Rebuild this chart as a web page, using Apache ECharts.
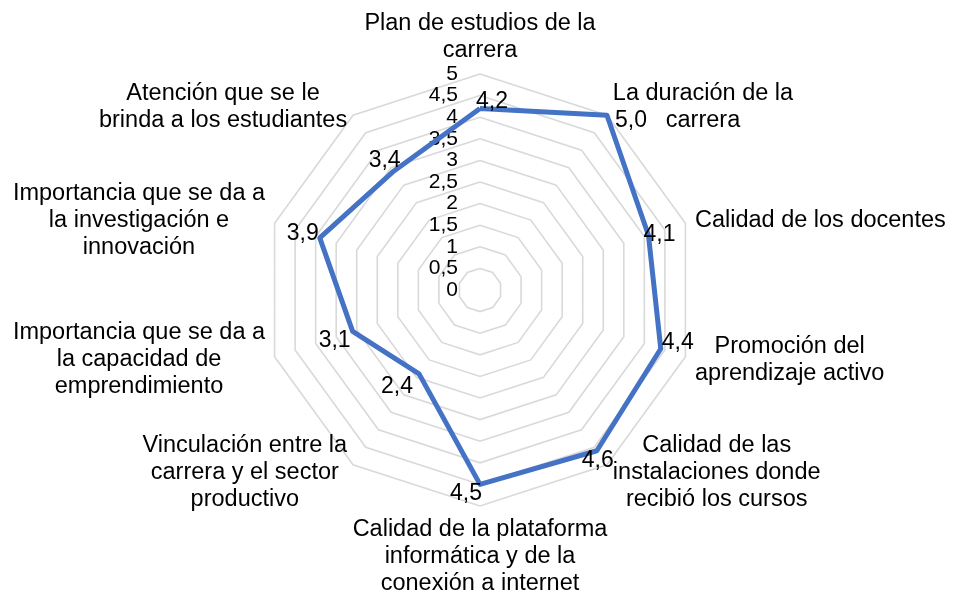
<!DOCTYPE html>
<html><head><meta charset="utf-8">
<script src="https://cdn.jsdelivr.net/npm/echarts@6/dist/echarts.min.js"></script>
<style>html,body{margin:0;padding:0;background:#fff}#c{width:953px;height:593px}</style>
</head><body><div id="c"></div>
<script>
// Categories listed clockwise starting at the top axis
const categories = [
  'Plan de estudios de la\ncarrera',
  'La duración de la\ncarrera',
  'Calidad de los docentes',
  'Promoción del\naprendizaje activo',
  'Calidad de las\ninstalaciones donde\nrecibió los cursos',
  'Calidad de la plataforma\ninformática y de la\nconexión a internet',
  'Vinculación entre la\ncarrera y el sector\nproductivo',
  'Importancia que se da a\nla capacidad de\nemprendimiento',
  'Importancia que se da a\nla investigación e\ninnovación',
  'Atención que se le\nbrinda a los estudiantes'
];
const values = [4.2, 5.0, 4.1, 4.4, 4.6, 4.5, 2.4, 3.1, 3.9, 3.4];
const axisMin = 0;
const axisMax = 5;
const axisSplits = 10;

// label offsets (dx, dy) in px for each category, clockwise order (style only)
const labelOffsets = [[12,-7],[24,5],[11,-1],[17,-6],[1,10],[-14,9],[-22,13],[-18,9],[-17,-4],[-9,-11]];

const FONT = 'Liberation Sans, Arial, sans-serif';
const n = categories.length;
// ECharts lays radar indicators counter-clockwise; reorder so the picture reads clockwise
const order = [0];
for (let i = n - 1; i >= 1; i--) order.push(i);
const ordCats = order.map(i => categories[i]);
const ordVals = order.map(i => values[i]);

const fmt = v => v.toFixed(1).replace('.', ',');
const tickFmt = v => String(v).replace('.', ',');

const rich = {};
labelOffsets.forEach((o, k) => {
  const dx = o[0], dy = o[1];
  rich['r' + k] = {
    fontSize: 23, color: '#000', fontFamily: FONT,
    padding: [dy > 0 ? 2 * dy : 0, dx < 0 ? -2 * dx : 0, dy < 0 ? -2 * dy : 0, dx > 0 ? 2 * dx : 0]
  };
});

const tickLabelStyle = {
  margin: 22, fontSize: 21, lineHeight: 16, color: '#000', fontFamily: FONT,
  showMinLabel: true, showMaxLabel: true, hideOverlap: false, formatter: tickFmt
};

const indicator = ordCats.map((name, j) => {
  const ind = { name: name, min: axisMin, max: axisMax };
  if (j === 0) {
    ind.axisLabel = Object.assign({ show: true }, tickLabelStyle);
  }
  return ind;
});

const chart = echarts.init(document.getElementById('c'), null, { renderer: 'canvas' });
chart.setOption({
  animation: false,
  backgroundColor: '#fff',
  radar: {
    center: [480, 290],
    radius: 216,
    startAngle: 90,
    splitNumber: axisSplits,
    shape: 'polygon',
    indicator: indicator,
    nameGap: 10,
    axisName: {
      color: '#000',
      fontFamily: FONT,
      fontSize: 23.5,
      formatter: name => name.split('\n').map(l => '{n|' + l + '}').join('\n'),
      rich: { n: { align: 'center', fontSize: 23.5, lineHeight: 27, color: '#000', fontFamily: FONT } }
    },
    axisLine: { show: false },
    axisTick: { show: false },
    axisLabel: Object.assign({ show: false }, tickLabelStyle),
    splitLine: { lineStyle: { color: '#d9d9d9', width: 1.6 } },
    splitArea: { show: false }
  },
  series: [{
    type: 'radar',
    symbol: 'circle',
    symbolSize: 1,
    itemStyle: { color: '#4472C4' },
    lineStyle: { color: '#4472C4', width: 5 },
    label: {
      show: true,
      position: 'inside',
      formatter: function (p) {
        let j = (p.dimensionIndex != null) ? p.dimensionIndex : ordVals.indexOf(p.value);
        if (j < 0) j = 0;
        const k = order[j];
        return '{r' + k + '|' + fmt(values[k]) + '}';
      },
      rich: rich
    },
    data: [{ value: ordVals, name: 'Promedio' }]
  }]
});
</script>
</body></html>
